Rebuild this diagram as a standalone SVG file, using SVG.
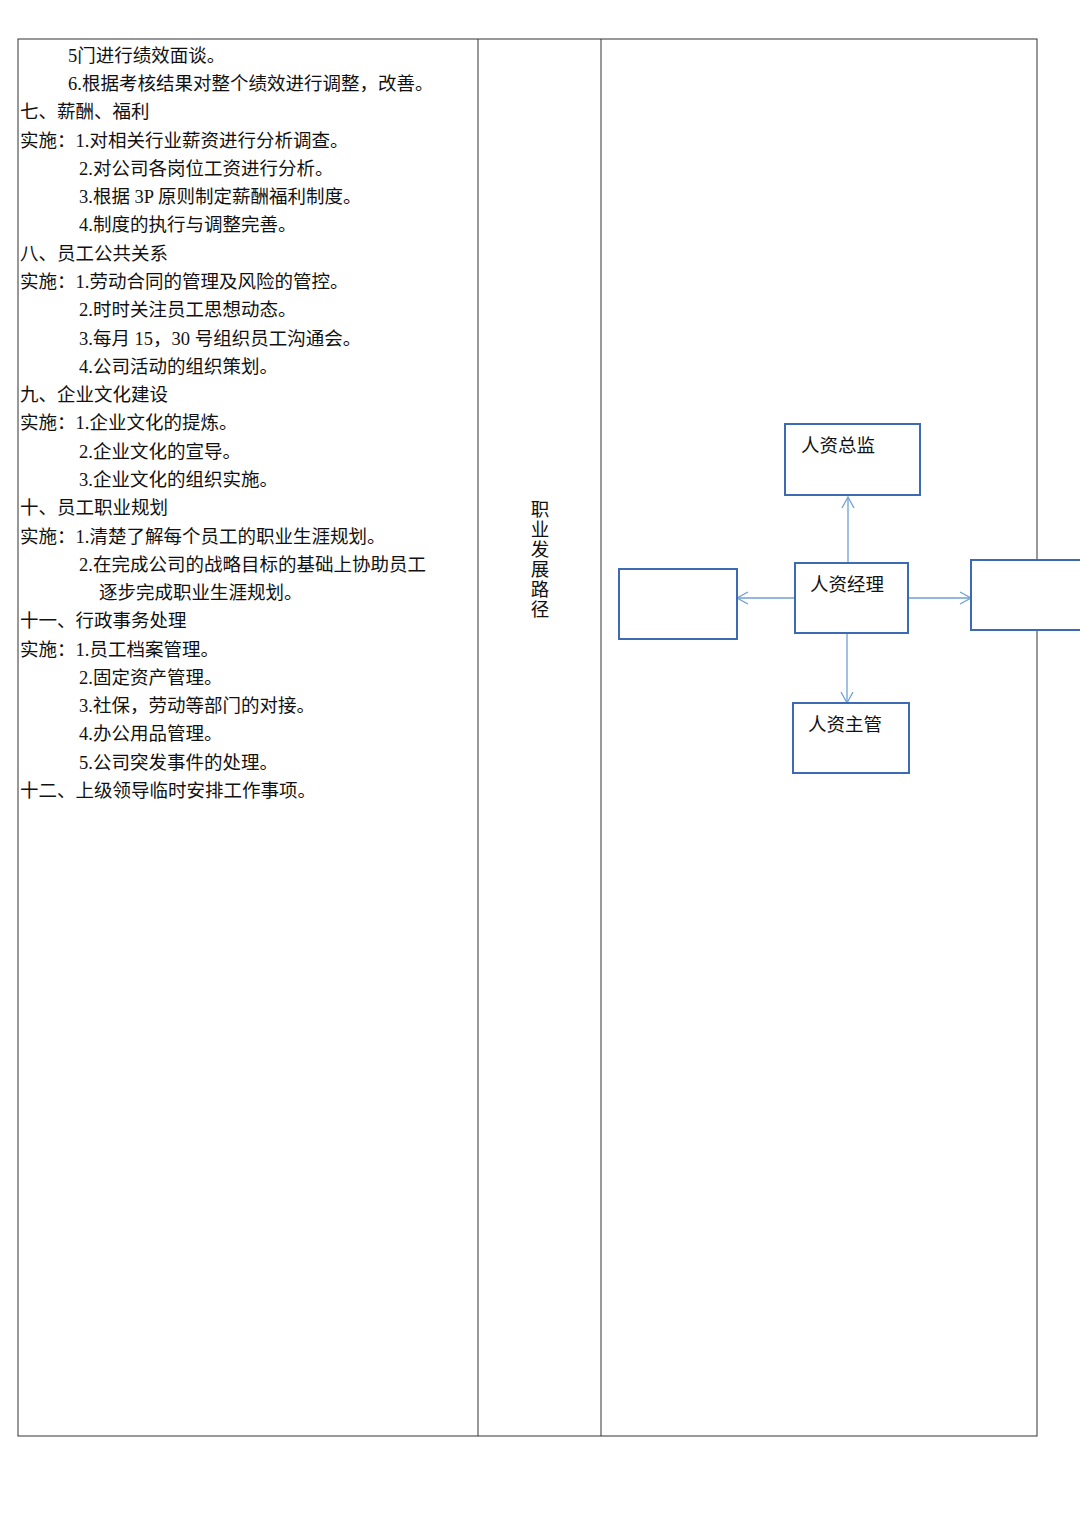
<svg xmlns="http://www.w3.org/2000/svg" width="1080" height="1527" viewBox="0 0 1080 1527">
<style>
.t{font-family:"Liberation Serif","Noto Sans CJK SC",serif;font-size:18.5px;fill:#111}
.b{fill:#fff;stroke:#3d6bb3;stroke-width:2}
.c{stroke:#6f9fd4;stroke-width:1.3;fill:none}
.g{stroke:#333;stroke-width:1;fill:none}
</style>
<defs><marker id="a" markerWidth="14" markerHeight="14" refX="12" refY="7" orient="auto" markerUnits="userSpaceOnUse"><path d="M1,1 L12,7 L1,13" fill="none" stroke="#6f9fd4" stroke-width="1.3"/></marker></defs>
<rect width="1080" height="1527" fill="#fff"/>
<g id="table" class="g"><rect x="18" y="39" width="1019" height="1397"/><line x1="478" y1="39" x2="478" y2="1436"/><line x1="601" y1="39" x2="601" y2="1436"/></g>
<g id="text">
<text class="t" x="68" y="62">5门进行绩效面谈。</text>
<text class="t" x="68" y="90">6.根据考核结果对整个绩效进行调整，改善。</text>
<text class="t" x="20" y="118">七、薪酬、福利</text>
<text class="t" x="20" y="147">实施：1.对相关行业薪资进行分析调查。</text>
<text class="t" x="79" y="175">2.对公司各岗位工资进行分析。</text>
<text class="t" x="79" y="203">3.根据 3P 原则制定薪酬福利制度。</text>
<text class="t" x="79" y="231">4.制度的执行与调整完善。</text>
<text class="t" x="20" y="260">八、员工公共关系</text>
<text class="t" x="20" y="288">实施：1.劳动合同的管理及风险的管控。</text>
<text class="t" x="79" y="316">2.时时关注员工思想动态。</text>
<text class="t" x="79" y="345">3.每月 15，30 号组织员工沟通会。</text>
<text class="t" x="79" y="373">4.公司活动的组织策划。</text>
<text class="t" x="20" y="401">九、企业文化建设</text>
<text class="t" x="20" y="429">实施：1.企业文化的提炼。</text>
<text class="t" x="79" y="458">2.企业文化的宣导。</text>
<text class="t" x="79" y="486">3.企业文化的组织实施。</text>
<text class="t" x="20" y="514">十、员工职业规划</text>
<text class="t" x="20" y="543">实施：1.清楚了解每个员工的职业生涯规划。</text>
<text class="t" x="79" y="571">2.在完成公司的战略目标的基础上协助员工</text>
<text class="t" x="99" y="599">逐步完成职业生涯规划。</text>
<text class="t" x="20" y="627">十一、行政事务处理</text>
<text class="t" x="20" y="656">实施：1.员工档案管理。</text>
<text class="t" x="79" y="684">2.固定资产管理。</text>
<text class="t" x="79" y="712">3.社保，劳动等部门的对接。</text>
<text class="t" x="79" y="740">4.办公用品管理。</text>
<text class="t" x="79" y="769">5.公司突发事件的处理。</text>
<text class="t" x="20" y="797">十二、上级领导临时安排工作事项。</text>
<text class="t" x="540" y="516" text-anchor="middle">职</text>
<text class="t" x="540" y="536" text-anchor="middle">业</text>
<text class="t" x="540" y="556" text-anchor="middle">发</text>
<text class="t" x="540" y="576" text-anchor="middle">展</text>
<text class="t" x="540" y="596" text-anchor="middle">路</text>
<text class="t" x="540" y="616" text-anchor="middle">径</text>
</g>
<g id="connectors">
<line class="c" x1="848" y1="562" x2="848" y2="497" marker-end="url(#a)"/>
<line class="c" x1="795" y1="598" x2="737" y2="598" marker-end="url(#a)"/>
<line class="c" x1="908" y1="598" x2="971" y2="598" marker-end="url(#a)"/>
<line class="c" x1="847" y1="634" x2="847" y2="703" marker-end="url(#a)"/>
</g>
<g id="n1"><rect class="b" x="785" y="424" width="135" height="71"/><text class="t" x="801" y="452">人资总监</text></g>
<g id="n2"><rect class="b" x="795" y="563" width="113" height="70"/><text class="t" x="810" y="591">人资经理</text></g>
<g id="n3"><rect class="b" x="619" y="569" width="118" height="70"/></g>
<g id="n4"><rect class="b" x="971" y="560" width="115" height="70"/></g>
<g id="n5"><rect class="b" x="793" y="703" width="116" height="70"/><text class="t" x="808" y="731">人资主管</text></g>
</svg>
